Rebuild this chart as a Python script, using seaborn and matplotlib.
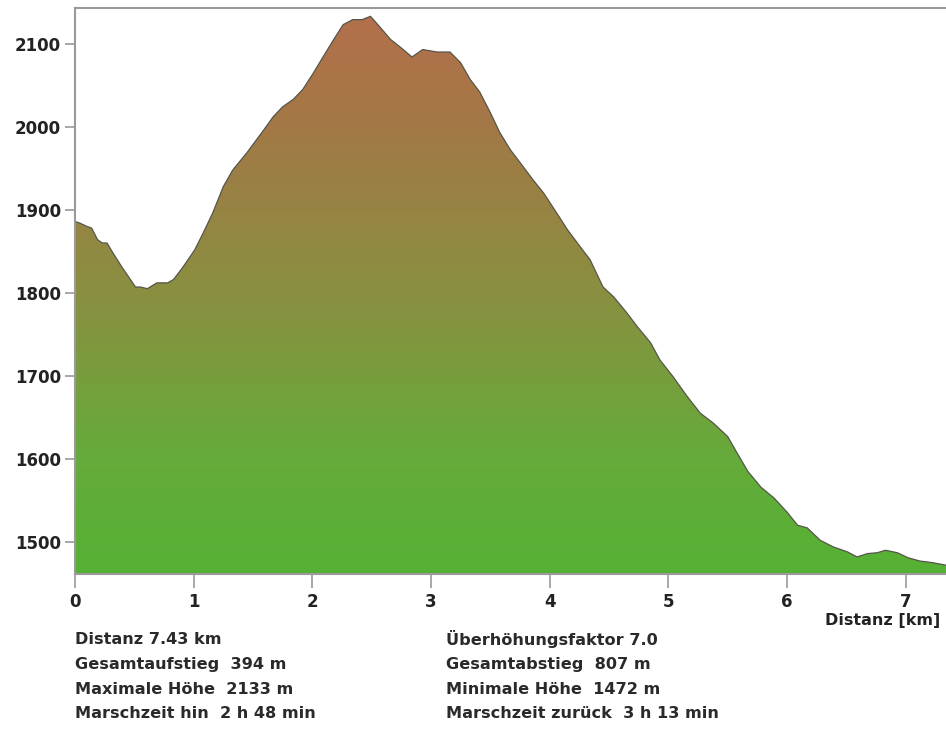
import numpy as np
import pandas as pd
import matplotlib
matplotlib.use("Agg")
import matplotlib.pyplot as plt
from matplotlib.colors import LinearSegmentedColormap
import seaborn as sns

distance_km = [0.00, 0.04, 0.10, 0.14, 0.19, 0.23, 0.27, 0.32, 0.40, 0.51, 0.55, 0.61,
               0.69, 0.78, 0.83, 0.91, 1.01, 1.08, 1.16, 1.25, 1.33, 1.45, 1.59, 1.67,
               1.75, 1.84, 1.92, 2.01, 2.09, 2.18, 2.26, 2.34, 2.42, 2.49, 2.57, 2.66,
               2.74, 2.84, 2.93, 3.05, 3.16, 3.25, 3.33, 3.41, 3.50, 3.58, 3.67, 3.75,
               3.86, 3.95, 4.06, 4.15, 4.26, 4.34, 4.45, 4.54, 4.65, 4.74, 4.85, 4.93,
               5.04, 5.16, 5.27, 5.38, 5.50, 5.58, 5.67, 5.78, 5.89, 6.00, 6.09, 6.17,
               6.28, 6.39, 6.51, 6.59, 6.68, 6.76, 6.83, 6.93, 7.02, 7.12, 7.23, 7.34,
               7.43]
elevation_m = [1886, 1884, 1880, 1878, 1864, 1860, 1860, 1848, 1830, 1807, 1807, 1805,
               1812, 1812, 1816, 1831, 1852, 1872, 1896, 1928, 1948, 1969, 1996, 2012,
               2024, 2033, 2045, 2065, 2084, 2105, 2123, 2129, 2129, 2133, 2120, 2105,
               2096, 2084, 2093, 2090, 2090, 2077, 2057, 2042, 2017, 1993, 1972, 1957,
               1936, 1920, 1896, 1876, 1855, 1840, 1807, 1795, 1776, 1759, 1740, 1719,
               1699, 1675, 1655, 1643, 1627, 1607, 1585, 1566, 1553, 1536, 1520, 1517,
               1502, 1494, 1488, 1482, 1486, 1487, 1490, 1487, 1481, 1477, 1475, 1472,
               1472]
x_ticks = [0, 1, 2, 3, 4, 5, 6, 7]
y_ticks = [1500, 1600, 1700, 1800, 1900, 2000, 2100]
stats_left = ["Distanz 7.43 km", "Gesamtaufstieg  394 m", "Maximale Höhe  2133 m",
              "Marschzeit hin  2 h 48 min"]
stats_right = ["Überhöhungsfaktor 7.0", "Gesamtabstieg  807 m", "Minimale Höhe  1472 m",
               "Marschzeit zurück  3 h 13 min"]
x_label = "Distanz [km]"

df = pd.DataFrame({"km": distance_km, "m": elevation_m})

sns.set_theme(style="white")
plt.rcParams['font.family'] = ['DejaVu Sans']

W, H = 946, 740
fig = plt.figure(figsize=(W / 100, H / 100), dpi=100)
ax = fig.add_axes([75 / W, 1 - 574 / H, 1 - 75 / W, (574 - 8) / H])

ymin, ymax = 1461.4, 2143.0
xmin, xmax = 0.0, 7.34

# gradient fill clipped by the profile polygon
poly = ax.fill_between(df["km"], df["m"], ymin, color="none", lw=0)
cmap = LinearSegmentedColormap.from_list(
    "terrain", [(0.0, "#56b134"), (0.2, "#65ab3a"), (0.5, "#8a8f40"),
                (0.78, "#a27946"), (1.0, "#b46f4b")])
grad = np.linspace(0, 1, 256).reshape(-1, 1)
im = ax.imshow(grad, cmap=cmap, origin="lower", aspect="auto",
               extent=[xmin, 7.43, ymin, ymax], zorder=1)
im.set_clip_path(poly.get_paths()[0], transform=ax.transData)

sns.lineplot(data=df, x="km", y="m", ax=ax, color="#55554c", lw=0.9, zorder=2)

ax.set_xlim(xmin, xmax)
ax.set_ylim(ymin, ymax)
ax.set_xticks(x_ticks)
ax.set_yticks(y_ticks)
ax.set_xlabel("")
ax.set_ylabel("")
for s in ["left", "top", "bottom"]:
    ax.spines[s].set_color("#9a9a9a")
    ax.spines[s].set_linewidth(1.5)
ax.spines["right"].set_visible(False)
ax.tick_params(axis="y", length=7, width=1.2, color="#9a9a9a", direction="out",
               left=True, pad=3, labelsize=12, labelcolor="#222222")
ax.tick_params(axis="x", length=10, width=1.2, color="#9a9a9a", direction="out",
               bottom=True, pad=4, labelsize=12, labelcolor="#222222")
for lab in ax.get_xticklabels() + ax.get_yticklabels():
    lab.set_fontweight("bold")

fig.text(940 / W, 1 - 621 / H, x_label, ha="right", va="center", fontsize=11.5,
         fontweight="bold", color="#222222")

line_y = [639, 664, 689, 714]
for txt, yy in zip(stats_left, line_y):
    fig.text(75 / W, 1 - yy / H, txt, ha="left", va="center", fontsize=11.6,
             fontweight="bold", color="#2a2a2a")
for txt, yy in zip(stats_right, line_y):
    fig.text(446 / W, 1 - yy / H, txt, ha="left", va="center", fontsize=11.6,
             fontweight="bold", color="#2a2a2a")

fig.savefig("out.png", dpi=100, facecolor="white")
